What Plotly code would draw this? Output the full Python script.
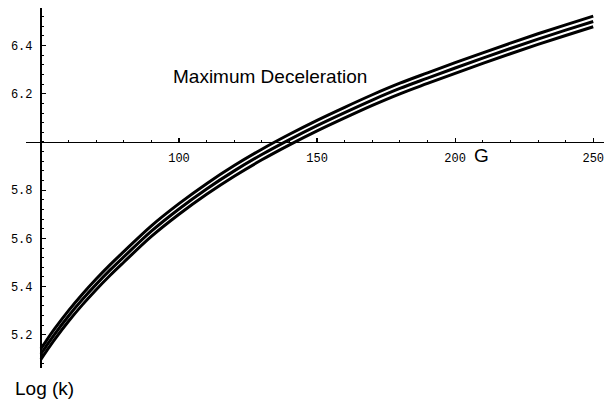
import plotly.graph_objects as go

# Data
g_values = [50, 52, 55, 60, 65, 70, 75, 80, 90, 100, 110, 120, 130, 140, 150,
            160, 170, 180, 190, 200, 210, 220, 230, 240, 250]
logk_upper = [5.142, 5.176, 5.225, 5.300, 5.368, 5.431, 5.490, 5.545, 5.652, 5.744,
              5.827, 5.902, 5.970, 6.032, 6.090, 6.144, 6.196, 6.244, 6.287, 6.329,
              6.370, 6.410, 6.449, 6.486, 6.522]
logk_mid = [5.120, 5.154, 5.203, 5.278, 5.346, 5.409, 5.468, 5.523, 5.630, 5.722,
            5.805, 5.880, 5.948, 6.010, 6.068, 6.122, 6.174, 6.222, 6.265, 6.307,
            6.348, 6.388, 6.427, 6.464, 6.500]
logk_lower = [5.098, 5.132, 5.181, 5.256, 5.324, 5.387, 5.446, 5.501, 5.608, 5.700,
              5.783, 5.858, 5.926, 5.988, 6.046, 6.100, 6.152, 6.200, 6.243, 6.285,
              6.326, 6.366, 6.405, 6.442, 6.478]

x_ticks = [100, 150, 200, 250]
x_tick_labels = ["100", "150", "200", "250"]
y_ticks = [5.2, 5.4, 5.6, 5.8, 6.2, 6.4]
y_tick_labels = ["5.2", "5.4", "5.6", "5.8", "6.2", "6.4"]

x_origin = 50
y_origin = 6.0
x_range = [44.6, 253.9]
y_range = [5.062, 6.556]

fig = go.Figure()
for ys in (logk_upper, logk_mid, logk_lower):
    fig.add_trace(go.Scatter(x=g_values, y=ys, mode="lines",
                             line=dict(color="black", width=3, shape="spline", smoothing=1.0),
                             showlegend=False, hoverinfo="skip"))

tick_font = dict(family="Liberation Mono, Courier New, monospace", size=12, color="black")
text_font = dict(family="Liberation Sans, Arial, sans-serif", size=19, color="black")

fig.update_layout(
    width=607, height=401,
    margin=dict(l=26, r=3, t=8, b=33),
    paper_bgcolor="white", plot_bgcolor="white",
    xaxis=dict(range=x_range, showgrid=False, zeroline=False, automargin=False,
               anchor="free",
               position=(y_origin - y_range[0]) / (y_range[1] - y_range[0]),
               showline=True, linecolor="black", linewidth=1.5,
               tickvals=x_ticks, ticktext=x_tick_labels,
               ticks="inside", ticklen=4, tickwidth=1.2, tickcolor="black",
               minor=dict(ticks="inside", dtick=10, tick0=50, ticklen=2,
                          tickwidth=1, tickcolor="black"),
               tickfont=tick_font, ticklabelstandoff=4),
    yaxis=dict(range=y_range, showgrid=False, zeroline=False, automargin=False,
               anchor="free",
               position=(x_origin - x_range[0]) / (x_range[1] - x_range[0]),
               showline=True, linecolor="black", linewidth=2,
               tickvals=y_ticks, ticktext=y_tick_labels,
               ticks="inside", ticklen=4, tickwidth=1.2, tickcolor="black",
               minor=dict(ticks="inside", dtick=0.04, tick0=5.0, ticklen=2,
                          tickwidth=1, tickcolor="black"),
               tickfont=tick_font, ticklabelstandoff=5),
    annotations=[
        dict(x=133.0, y=6.272, xref="x", yref="y", text="Maximum Deceleration",
             showarrow=False, font=text_font, xanchor="center", yanchor="middle"),
        dict(x=209.6, y=5.942, xref="x", yref="y", text="G",
             showarrow=False, font=text_font, xanchor="center", yanchor="middle"),
        dict(x=0.032, y=-0.058, xref="paper", yref="paper", text="Log (k)",
             showarrow=False, font=text_font, xanchor="center", yanchor="middle"),
    ],
)

fig.write_html("out.html",
               config={"displayModeBar": False, "staticPlot": True},
               post_script="document.body.style.margin='0';document.body.style.overflow='hidden';")
